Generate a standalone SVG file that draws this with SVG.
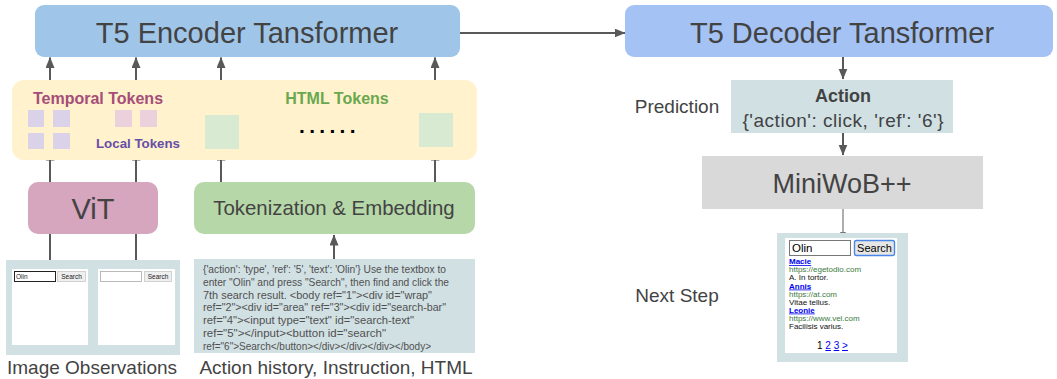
<svg xmlns="http://www.w3.org/2000/svg" width="1057" height="379" viewBox="0 0 1057 379">
<style>
.lbl{font-family:"Liberation Sans",Arial,sans-serif;fill:#434343;}
.cap{font-family:"Liberation Sans",Arial,sans-serif;fill:#434343;font-size:19px;}
.conn{stroke:#595959;stroke-width:2;fill:none;}
.thin{stroke:#777;stroke-width:1.2;fill:none;}
.html{font-family:"Liberation Sans",Arial,sans-serif;fill:#505050;font-size:10.3px;}
.ss{font-family:"Liberation Sans",Arial,sans-serif;font-size:8px;}
.tiny{font-family:"Liberation Sans",Arial,sans-serif;font-size:6.5px;fill:#222;}
</style>
<defs>
<marker id="arr" markerUnits="userSpaceOnUse" markerWidth="12" markerHeight="10" refX="10.5" refY="4.5" orient="auto">
<path d="M0,0 L11,4.5 L0,9 z" fill="#595959"/>
</marker>
<marker id="arrs" markerUnits="userSpaceOnUse" markerWidth="7" markerHeight="7" refX="6" refY="3" orient="auto">
<path d="M0,0 L7,3 L0,6 z" fill="#777"/>
</marker>
</defs>
<rect width="1057" height="379" fill="#ffffff"/>

<g id="connectors">
<path class="conn" d="M460,33 H625" marker-end="url(#arr)"/>
<path class="conn" d="M50,80 V57.5" marker-end="url(#arr)"/>
<path class="conn" d="M136,80 V57.5" marker-end="url(#arr)"/>
<path class="conn" d="M221,80 V57.5" marker-end="url(#arr)"/>
<path class="conn" d="M435,80 V57.5" marker-end="url(#arr)"/>
<path class="conn" d="M50,182 V150" marker-end="url(#arr)"/>
<path class="conn" d="M136,182 V150" marker-end="url(#arr)"/>
<path class="conn" d="M221,182 V150" marker-end="url(#arr)"/>
<path class="conn" d="M435,182 V150" marker-end="url(#arr)"/>
<path class="conn" d="M50,271 V234"/>
<path class="conn" d="M136,269 V234"/>
<path class="conn" d="M334,259 V235" marker-end="url(#arr)"/>
<path class="conn" d="M843,57 V79" marker-end="url(#arr)"/>
<path class="conn" d="M843,133 V155" marker-end="url(#arr)"/>
<path class="thin" d="M843,209 V238" marker-end="url(#arrs)"/>
</g>

<g id="encoder">
<rect x="35" y="5" width="425" height="52" rx="9" fill="#9fc5e8"/>
<text class="lbl" x="247" y="43" font-size="29" text-anchor="middle">T5 Encoder Tansformer</text>
</g>

<g id="decoder">
<rect x="625" y="5" width="428" height="52" rx="9" fill="#a4c2f4"/>
<text class="lbl" x="842" y="43" font-size="29" text-anchor="middle">T5 Decoder Tansformer</text>
</g>

<g id="tokens">
<rect x="12" y="80" width="465" height="80" rx="12" fill="#fff2cc"/>
<text x="98" y="104" font-family="Liberation Sans, Arial, sans-serif" font-weight="bold" font-size="16" fill="#a64d79" text-anchor="middle">Temporal Tokens</text>
<text x="337" y="104" font-family="Liberation Sans, Arial, sans-serif" font-weight="bold" font-size="16" fill="#6aa84f" text-anchor="middle">HTML Tokens</text>
<text x="138" y="148" font-family="Liberation Sans, Arial, sans-serif" font-weight="bold" font-size="13.3" fill="#674ea7" text-anchor="middle">Local Tokens</text>
<rect x="28" y="110" width="16" height="17" fill="#d9d2e9"/>
<rect x="53" y="110" width="17" height="17" fill="#d9d2e9"/>
<rect x="28" y="133" width="16" height="16" fill="#d9d2e9"/>
<rect x="53" y="133" width="17" height="16" fill="#d9d2e9"/>
<rect x="115" y="110" width="17" height="17" fill="#ead1dc"/>
<rect x="140" y="110" width="17" height="17" fill="#ead1dc"/>
<rect x="205" y="115" width="34" height="34" fill="#d9ead3"/>
<rect x="419" y="113" width="34" height="34" fill="#d9ead3"/>
<text x="299" y="133" font-family="Liberation Sans, Arial, sans-serif" font-weight="bold" font-size="21" fill="#000" letter-spacing="4.3">......</text>
</g>

<g id="vit">
<rect x="28" y="182" width="130" height="52" rx="10" fill="#d5a6bd"/>
<text class="lbl" x="93" y="219" font-size="29" text-anchor="middle">ViT</text>
</g>

<g id="tokenization">
<rect x="194" y="182" width="281" height="52" rx="10" fill="#b6d7a8"/>
<text class="lbl" x="334" y="215" font-size="20.4" text-anchor="middle">Tokenization &amp; Embedding</text>
</g>

<g id="image-observations">
<rect x="6" y="260" width="174" height="95" fill="#d0e0e3"/>
<rect x="12" y="269" width="76" height="76" fill="#ffffff"/>
<rect x="98" y="269" width="77" height="76" fill="#ffffff"/>
<rect x="14.5" y="271.5" width="41" height="10" fill="#fff" stroke="#222" stroke-width="1"/>
<text class="tiny" x="16" y="279">Olin</text>
<rect x="57.5" y="271.5" width="28" height="10" fill="#efefef" stroke="#c8c8c8" stroke-width="0.8"/>
<text class="tiny" x="71.5" y="279" text-anchor="middle">Search</text>
<rect x="100.5" y="271.5" width="41" height="10" fill="#fff" stroke="#aaa" stroke-width="0.8"/>
<rect x="144.5" y="271.5" width="27" height="10" fill="#efefef" stroke="#c8c8c8" stroke-width="0.8"/>
<text class="tiny" x="158" y="279" text-anchor="middle">Search</text>
<text class="cap" x="92" y="374" text-anchor="middle">Image Observations</text>
</g>

<g id="html-input">
<rect x="194" y="259" width="281" height="94" fill="#d0e0e3"/>
<text class="html" x="203" y="273" textLength="243" lengthAdjust="spacingAndGlyphs">{'action': 'type', 'ref': '5', 'text': 'Olin'} Use the textbox to</text>
<text class="html" x="203" y="285.8" textLength="246" lengthAdjust="spacingAndGlyphs">enter "Olin" and press "Search", then find and click the</text>
<text class="html" x="203" y="298.6" textLength="229" lengthAdjust="spacingAndGlyphs">7th search result. &lt;body ref="1"&gt;&lt;div id="wrap"</text>
<text class="html" x="203" y="311.4" textLength="243" lengthAdjust="spacingAndGlyphs">ref="2"&gt;&lt;div id="area" ref="3"&gt;&lt;div id="search-bar"</text>
<text class="html" x="203" y="324.2" textLength="211" lengthAdjust="spacingAndGlyphs">ref="4"&gt;&lt;input type="text" id="search-text"</text>
<text class="html" x="203" y="337" textLength="183" lengthAdjust="spacingAndGlyphs">ref="5"&gt;&lt;/input&gt;&lt;button id="search"</text>
<text class="html" x="203" y="349.8" textLength="228" lengthAdjust="spacingAndGlyphs">ref="6"&gt;Search&lt;/button&gt;&lt;/div&gt;&lt;/div&gt;&lt;/div&gt;&lt;/body&gt;</text>
<text class="cap" x="336" y="374" text-anchor="middle">Action history, Instruction, HTML</text>
</g>

<g id="prediction">
<text class="cap" x="677" y="113" font-size="19.5" text-anchor="middle">Prediction</text>
<rect x="731" y="80" width="222" height="53" fill="#d0e0e3"/>
<text class="lbl" x="843" y="102" font-size="18" font-weight="bold" text-anchor="middle">Action</text>
<text class="lbl" x="843" y="127" font-size="19" text-anchor="middle" textLength="201" lengthAdjust="spacing">{'action': click, 'ref': '6'}</text>
</g>

<g id="miniwob">
<rect x="702" y="156" width="281" height="53" fill="#d9d9d9"/>
<text class="lbl" x="842" y="193" font-size="27" text-anchor="middle">MiniWoB++</text>
</g>

<g id="next-step">
<text class="cap" x="677" y="302" font-size="19.5" text-anchor="middle">Next Step</text>
<rect x="777" y="233" width="131" height="129" fill="#d0e0e3"/>
<rect x="785" y="238" width="112" height="115" fill="#ffffff"/>
<rect x="789.5" y="240.5" width="61" height="15" fill="#fff" stroke="#777" stroke-width="1"/>
<text x="792" y="252" font-family="Liberation Sans, Arial, sans-serif" font-size="11.5" fill="#000">Olin</text>
<rect x="854.5" y="240.5" width="40" height="15" rx="2" fill="#e6e6e6" stroke="#4a86e8" stroke-width="1.4"/>
<text x="874.5" y="252" font-family="Liberation Sans, Arial, sans-serif" font-size="11" fill="#000" text-anchor="middle">Search</text>
<text class="ss" x="789" y="264" fill="#0000ee" font-weight="bold" text-decoration="underline">Macie</text>
<text class="ss" x="789" y="272" fill="#3d7a3d">https://egetodio.com</text>
<text class="ss" x="789" y="280" fill="#111">A. In tortor.</text>
<text class="ss" x="789" y="288.5" fill="#0000ee" font-weight="bold" text-decoration="underline">Annis</text>
<text class="ss" x="789" y="296.5" fill="#3d7a3d">https://at.com</text>
<text class="ss" x="789" y="304.5" fill="#111">Vitae tellus.</text>
<text class="ss" x="789" y="312.5" fill="#0000ee" font-weight="bold" text-decoration="underline">Leonie</text>
<text class="ss" x="789" y="320.5" fill="#3d7a3d">https://www.vel.com</text>
<text class="ss" x="789" y="329" fill="#111">Facilisis varius.</text>
<text x="817" y="349" font-family="Liberation Sans, Arial, sans-serif" font-size="10" fill="#000">1 <tspan fill="#0000ee" text-decoration="underline">2</tspan> <tspan fill="#0000ee" text-decoration="underline">3</tspan> <tspan fill="#0000ee" text-decoration="underline">&gt;</tspan></text>
</g>
</svg>
